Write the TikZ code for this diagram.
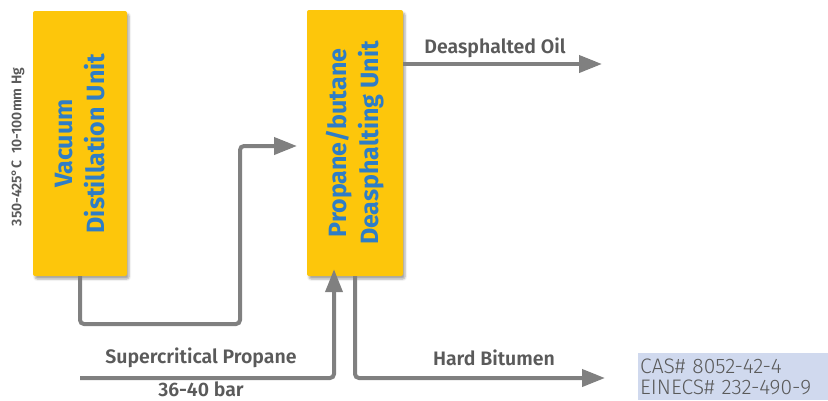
\documentclass[tikz,border=0pt]{standalone}
\usepackage{fontspec}
\setmainfont{Fira Sans}
\IfFontExistsTF{Fira Sans SemiBold}
  {\newfontfamily\semifont{Fira Sans SemiBold}}
  {\newfontfamily\semifont{Fira Sans}[FakeBold=1.5]}
\IfFontExistsTF{Fira Sans Light}
  {\newfontfamily\lightfont{Fira Sans Light}}
  {\newfontfamily\lightfont{Fira Sans}}
\usetikzlibrary{arrows.meta,shadows.blur}
\definecolor{unityellow}{HTML}{FDC60B}
\definecolor{unitblue}{HTML}{2F7DC6}
\definecolor{flowgray}{HTML}{808080}
\definecolor{textgray}{HTML}{5A5A5A}
\definecolor{casblue}{HTML}{D0D9EE}

\begin{document}
\begin{tikzpicture}[x=1pt,y=-1pt,
  unit/.style={fill=unityellow, rounded corners=2pt, inner sep=0pt,
    blur shadow={shadow xshift=2pt, shadow yshift=-3pt, shadow opacity=35}},
  unittext/.style={text=unitblue, rotate=90, align=center, inner sep=0pt,
    font=\fontsize{25}{32}\selectfont\bfseries},
  flow/.style={draw=flowgray, line width=4pt, rounded corners=4pt,
    -{Triangle[length=23pt,width=17pt]}},
  flowlabel/.style={text=textgray, inner sep=0pt, font=\fontsize{19.5}{22}\selectfont\semifont}]
\useasboundingbox (0,0) rectangle (828,400);
% units
\node [unit, minimum width=94pt, minimum height=265pt] (vdu) at (80,143.5) {};
\node [unittext] (vdutext) at (vdu.center) {Vacuum\\Distillation Unit};
\node [unit, minimum width=96pt, minimum height=266pt] (dau) at (355,143) {};
\node [unittext] (dautext) at (dau.center) {Propane/butane\\Deasphalting Unit};
\node [text=textgray, rotate=90, inner sep=0pt, font=\fontsize{14}{16}\selectfont\semifont]
  (vducond) at (18,147) {350-425°C\enspace 10-100mm Hg};
% flow points
\coordinate (vdubend) at (240,324);
\coordinate (dauin) at (297,146);
\coordinate (oilend) at (602,64);
\coordinate (propin) at (80,378);
\coordinate (bitend) at (605,378);
% flows
\draw [flow] (vdu.south) |- (vdubend) |- (dauin);
\draw [flow] (dau.east |- oilend) -- (oilend);
\draw [flow] (propin) -| ([xshift=-21pt,yshift=7pt]dau.south);
\draw [flow] (dau.south) |- (bitend);
% labels
\node [flowlabel] (oillabel) at (495,48) {Deasphalted Oil};
\node [flowlabel] (proplabel) at (201,358) {Supercritical Propane};
\node [flowlabel] (barlabel) at (201,389) {36-40 bar};
\node [flowlabel] (bitlabel) at (494,358) {Hard Bitumen};
\node [fill=casblue, anchor=north west, minimum width=190pt, minimum height=47pt,
  text width=186pt, inner xsep=2pt, inner ysep=0pt, align=left, text=textgray,
  font=\fontsize{21}{20}\selectfont\lightfont] (cas) at (638,353)
  {\strut CAS\# 8052-42-4\\EINECS\# 232-490-9};
\end{tikzpicture}
\end{document}
